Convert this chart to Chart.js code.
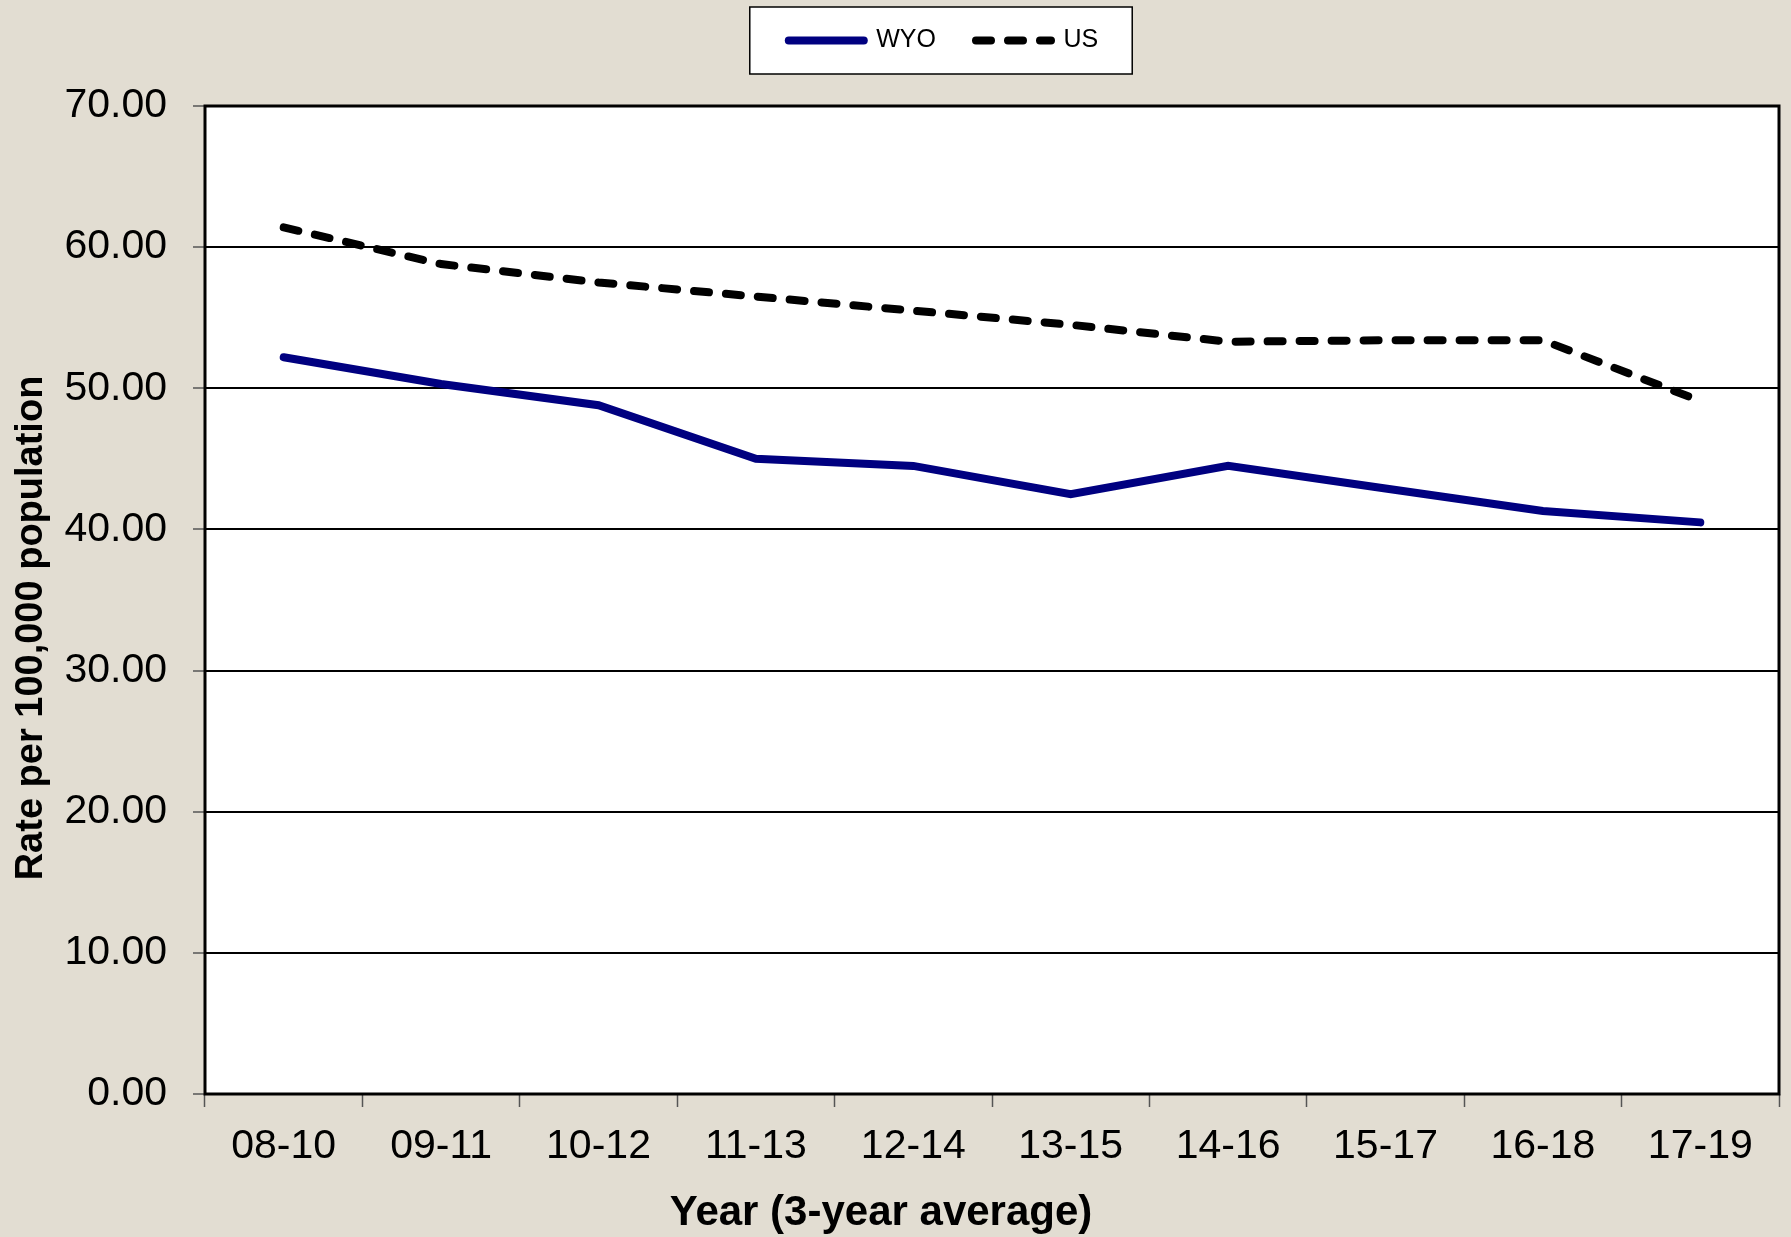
<!DOCTYPE html>
<html>
<head>
<meta charset="utf-8">
<script src="https://cdn.jsdelivr.net/npm/chart.js@4/dist/chart.umd.min.js"></script>
<style>
  html, body { margin: 0; padding: 0; background: #e2ddd2; }
  canvas { display: block; }
</style>
</head>
<body>
<canvas id="rateChart" width="1791" height="1237"></canvas>
<script>
// data
const categories = ['08-10', '09-11', '10-12', '11-13', '12-14', '13-15', '14-16', '15-17', '16-18', '17-19'];
const wyoRates = [52.2, 50.3, 48.8, 45.0, 44.5, 42.5, 44.5, 42.9, 41.3, 40.5];
const usRates = [61.4, 58.8, 57.5, 56.5, 55.5, 54.5, 53.3, 53.4, 53.4, 49.1];
const yTicks = [0, 10, 20, 30, 40, 50, 60, 70];

const xTitle = 'Year (3-year average)';
const yTitle = 'Rate per 100,000 population';

const FONT = '"Liberation Sans", Arial, sans-serif';
const BG = '#e2ddd2';

// background, white plot area, legend frame, plot border, axis titles
const framePlugin = {
    id: 'frame',
    afterLayout(chart) {
        // legend is centred a bit right of the canvas centre
        chart.legend.left = 108;
    },
    beforeDraw(chart) {
        const ctx = chart.ctx;
        const a = chart.chartArea;
        ctx.save();
        ctx.fillStyle = BG;
        ctx.fillRect(0, 0, chart.width, chart.height);
        ctx.fillStyle = '#fff';
        ctx.fillRect(a.left, a.top, a.right - a.left, a.bottom - a.top);

        const boxes = chart.legend.legendHitBoxes;
        if (boxes && boxes.length) {
            const first = boxes[0];
            const last = boxes[boxes.length - 1];
            const cy = first.top + first.height / 2;
            const x0 = first.left - 39;
            const x1 = last.left + last.width + 34;
            ctx.fillStyle = '#fff';
            ctx.fillRect(x0, cy - 33.5, x1 - x0, 67);
            ctx.strokeStyle = '#000';
            ctx.lineWidth = 1.5;
            ctx.strokeRect(x0, cy - 33.5, x1 - x0, 67);
        }
        ctx.restore();
    },
    beforeDatasetsDraw(chart) {
        const ctx = chart.ctx;
        const a = chart.chartArea;
        ctx.save();
        ctx.strokeStyle = '#000';
        ctx.lineWidth = 3;
        ctx.strokeRect(a.left, a.top, a.right - a.left, a.bottom - a.top);
        ctx.restore();
    },
    afterDraw(chart) {
        const ctx = chart.ctx;
        ctx.save();
        ctx.fillStyle = '#000';
        ctx.textAlign = 'center';
        ctx.textBaseline = 'alphabetic';
        ctx.font = 'bold 42px ' + FONT;
        ctx.fillText(xTitle, 881, 1225);
        ctx.translate(42, 628);
        ctx.rotate(-Math.PI / 2);
        ctx.font = 'bold 38px ' + FONT;
        ctx.fillText(yTitle, 0, 0);
        ctx.restore();
    }
};

const ctx = document.getElementById('rateChart').getContext('2d');
new Chart(ctx, {
    type: 'line',
    data: {
        labels: categories,
        datasets: [{
            label: 'WYO',
            data: wyoRates,
            borderColor: '#000080',
            backgroundColor: '#000080',
            borderWidth: 8,
            borderCapStyle: 'round',
            pointRadius: 0,
            pointStyle: 'line',
            tension: 0
        }, {
            label: 'US',
            data: usRates,
            borderColor: '#000',
            backgroundColor: '#000',
            borderWidth: 8,
            borderDash: [15, 17],
            borderCapStyle: 'round',
            pointRadius: 0,
            pointStyle: 'line',
            tension: 0
        }]
    },
    options: {
        responsive: false,
        animation: false,
        devicePixelRatio: 1,
        layout: {
            padding: { left: 0, right: 12, top: -12, bottom: 0 }
        },
        plugins: {
            legend: {
                position: 'top',
                labels: {
                    usePointStyle: true,
                    pointStyleWidth: 75,
                    padding: 40,
                    color: '#000',
                    font: { family: FONT, size: 25 },
                    generateLabels(chart) {
                        const items = Chart.defaults.plugins.legend.labels.generateLabels(chart);
                        items.forEach(item => {
                            const ds = chart.data.datasets[item.datasetIndex];
                            item.pointStyle = 'line';
                            item.strokeStyle = ds.borderColor;
                            item.lineWidth = 8;
                            item.lineCap = 'round';
                            item.lineDash = ds.borderDash || [];
                        });
                        return items;
                    }
                }
            },
            title: {
                // empty spacer between the legend and the plot
                display: true,
                text: '',
                weight: 500,
                padding: { top: 0, bottom: 33 },
                font: { size: 10, lineHeight: 1 }
            },
            tooltip: { enabled: false }
        },
        scales: {
            x: {
                offset: true,
                afterFit(scale) { scale.height = 143; },
                grid: {
                    offset: true,
                    drawOnChartArea: false,
                    drawTicks: true,
                    tickLength: 13,
                    tickColor: '#555',
                    tickWidth: 1.5
                },
                border: { display: false },
                ticks: {
                    padding: 15,
                    color: '#000',
                    maxRotation: 0,
                    autoSkip: false,
                    font: { family: FONT, size: 41 }
                }
            },
            y: {
                min: 0,
                max: 70,
                afterFit(scale) { scale.width = 205; },
                afterBuildTicks(scale) {
                    scale.ticks = yTicks.map(v => ({ value: v }));
                },
                grid: {
                    color: '#000',
                    lineWidth: 2,
                    drawTicks: true,
                    tickLength: 12,
                    tickColor: '#555',
                    tickWidth: 1.5
                },
                border: { display: false },
                ticks: {
                    padding: 26,
                    color: '#000',
                    font: { family: FONT, size: 41 },
                    callback: v => Number(v).toFixed(2)
                }
            }
        }
    },
    plugins: [framePlugin]
});
</script>
</body>
</html>
